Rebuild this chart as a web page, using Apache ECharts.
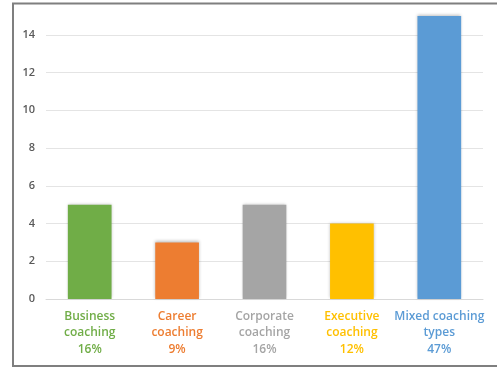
<!DOCTYPE html>
<html>
<head>
<meta charset="utf-8">
<style>
  html, body { margin: 0; padding: 0; background: #fff; }
  #chart { width: 497px; height: 369px; }
</style>
<script src="https://cdn.jsdelivr.net/npm/echarts@6/dist/echarts.min.js"></script>
</head>
<body>
<div id="chart"></div>
<script>
// Coaching types and how many respondents use each
const categories = ['Business\ncoaching', 'Career\ncoaching', 'Corporate\ncoaching', 'Executive\ncoaching', 'Mixed coaching\ntypes'];
const counts = [5, 3, 5, 4, 15];
const shares = ['16%', '9%', '16%', '12%', '47%'];
const yTicks = [0, 2, 4, 6, 8, 10, 12, 14];

const palette = ['#70AD47', '#ED7D31', '#A5A5A5', '#FFC000', '#5B9BD5'];

const chart = echarts.init(document.getElementById('chart'), null, { renderer: 'canvas' });

const rich = {};
palette.forEach((c, i) => {
  rich['c' + i] = {
    color: c,
    fontFamily: 'Open Sans',
    fontWeight: 600,
    fontSize: 12,
    lineHeight: 16.5,
    align: 'center'
  };
});

chart.setOption({
  animation: false,
  graphic: [{
    type: 'rect',
    shape: { x: 13, y: 3.5, width: 500, height: 362.5 },
    style: { fill: 'none', stroke: '#7f7f7f', lineWidth: 2 },
    z: 100
  }],
  grid: { left: 46, right: 14, top: 16, bottom: 70, containLabel: false },
  xAxis: {
    type: 'category',
    data: categories,
    axisTick: { show: false },
    axisLine: { show: true, lineStyle: { color: '#d9d9d9', width: 1 } },
    axisLabel: {
      interval: 0,
      margin: 9,
      formatter: function (value, index) {
        const lines = value.split('\n').concat([shares[index]]);
        return lines.map(l => '{c' + index + '|' + l + '}').join('\n');
      },
      rich: rich
    }
  },
  yAxis: {
    type: 'value',
    min: 0,
    max: 15,
    interval: 2,
    axisLine: { show: false },
    axisTick: { show: false },
    splitLine: { show: true, showMaxLine: false, lineStyle: { color: '#e4e4e4', width: 1 } },
    axisLabel: {
      showMaxLabel: false,
      margin: 11,
      color: '#595959',
      fontFamily: 'Open Sans',
      fontWeight: 600,
      fontSize: 11,
      formatter: function (v) { return yTicks.indexOf(v) >= 0 ? String(v) : ''; }
    }
  },
  series: [{
    type: 'bar',
    data: counts.map((v, i) => ({
      value: v,
      itemStyle: {
        color: palette[i],
        shadowBlur: 3,
        shadowColor: 'rgba(0,0,0,0.25)',
        shadowOffsetY: -1
      }
    })),
    barWidth: '50%'
  }]
});
</script>
</body>
</html>
